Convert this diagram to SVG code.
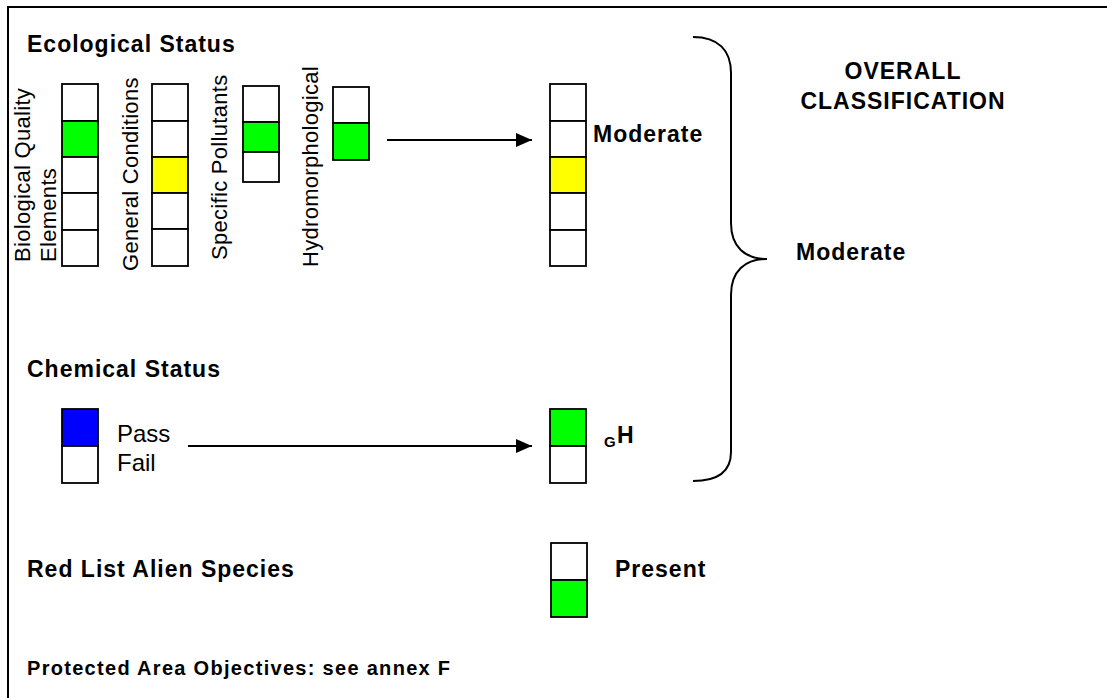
<svg xmlns="http://www.w3.org/2000/svg" width="1107" height="698" viewBox="0 0 1107 698">
<style>
.cell{stroke:#000;stroke-width:1.8;fill:#fff}
.g{fill:#00ff00}.y{fill:#ffff00}.b{fill:#0000ff}
.h{font-family:"Liberation Sans",Arial,sans-serif;font-weight:bold;font-size:23px;letter-spacing:1px;fill:#000}
.r{font-family:"Liberation Sans",Arial,sans-serif;font-size:24px;fill:#000}
.v{font-family:"Liberation Sans",Arial,sans-serif;font-size:22px;letter-spacing:0.3px;fill:#000}
.ln{stroke:#000;stroke-width:2;fill:none}
</style>
<defs>
<marker id="ah" markerUnits="userSpaceOnUse" markerWidth="17" markerHeight="15" refX="16" refY="7.5" orient="auto">
<path d="M0,0.5 L16,7.5 L0,14.5 z" fill="#000"/>
</marker>
</defs>
<rect width="1107" height="698" fill="#fff"/>
<path class="ln" d="M8,698 L8,7 L1107,7"/>

<g id="ecological-title"><text class="h" x="27" y="52">Ecological Status</text></g>

<g id="bqe">
<text class="v" transform="translate(30,262) rotate(-90)">Biological Quality</text>
<text class="v" transform="translate(56,262) rotate(-90)">Elements</text>
<rect class="cell" x="62" y="84" width="36" height="37"/>
<rect class="cell g" x="62" y="121" width="36" height="36"/>
<rect class="cell" x="62" y="157" width="36" height="36"/>
<rect class="cell" x="62" y="193" width="36" height="37"/>
<rect class="cell" x="62" y="230" width="36" height="36"/>
</g>

<g id="general-conditions">
<text class="v" transform="translate(138,271) rotate(-90)">General Conditions</text>
<rect class="cell" x="152" y="84" width="36" height="37"/>
<rect class="cell" x="152" y="121" width="36" height="36"/>
<rect class="cell y" x="152" y="157" width="36" height="36"/>
<rect class="cell" x="152" y="193" width="36" height="36"/>
<rect class="cell" x="152" y="229" width="36" height="37"/>
</g>

<g id="specific-pollutants">
<text class="v" transform="translate(227,260) rotate(-90)">Specific Pollutants</text>
<rect class="cell" x="243" y="86" width="36" height="36"/>
<rect class="cell g" x="243" y="122" width="36" height="30"/>
<rect class="cell" x="243" y="152" width="36" height="30"/>
</g>

<g id="hydromorphological">
<text class="v" transform="translate(318,267) rotate(-90)">Hydromorphological</text>
<rect class="cell" x="333" y="87" width="36" height="36"/>
<rect class="cell g" x="333" y="123" width="36" height="37"/>
</g>

<g id="ecological-result">
<rect class="cell" x="550" y="84" width="36" height="37"/>
<rect class="cell" x="550" y="121" width="36" height="36"/>
<rect class="cell y" x="550" y="157" width="36" height="36"/>
<rect class="cell" x="550" y="193" width="36" height="37"/>
<rect class="cell" x="550" y="230" width="36" height="36"/>
<text class="h" x="593" y="142">Moderate</text>
</g>

<g id="chemical-title"><text class="h" x="27" y="377">Chemical Status</text></g>

<g id="chemical-input">
<rect class="cell b" x="62" y="409" width="36" height="37"/>
<rect class="cell" x="62" y="446" width="36" height="37"/>
<text class="r" x="117" y="442">Pass</text>
<text class="r" x="117" y="471">Fail</text>
</g>

<g id="chemical-result">
<rect class="cell g" x="550" y="409" width="36" height="37"/>
<rect class="cell" x="550" y="446" width="36" height="37"/>
<text class="h" x="604" y="447" style="font-size:15px;letter-spacing:0">G</text>
<text class="h" x="617" y="443">H</text>
</g>

<g id="red-list">
<text class="h" x="27" y="577">Red List Alien Species</text>
<rect class="cell" x="551" y="543" width="36" height="37"/>
<rect class="cell g" x="551" y="580" width="36" height="37"/>
<text class="h" x="615" y="577">Present</text>
</g>

<g id="overall">
<text class="h" x="903" y="79" text-anchor="middle">OVERALL</text>
<text class="h" x="903" y="109" text-anchor="middle">CLASSIFICATION</text>
<text class="h" x="796" y="260">Moderate</text>
</g>

<g id="protected"><text class="h" x="27" y="675" style="font-size:20px;letter-spacing:1.3px">Protected Area Objectives: see annex F</text></g>

<g id="connectors">
<line class="ln" x1="387" y1="140" x2="532" y2="140" marker-end="url(#ah)"/>
<line class="ln" x1="188" y1="446" x2="532" y2="446" marker-end="url(#ah)"/>
<path class="ln" d="M693,37 C718,37 731,50 731,73 L731,223 C731,247 745,259 767,259 C745,259 731,271 731,295 L731,452 C731,472 718,481 693,481"/>
</g>
</svg>
